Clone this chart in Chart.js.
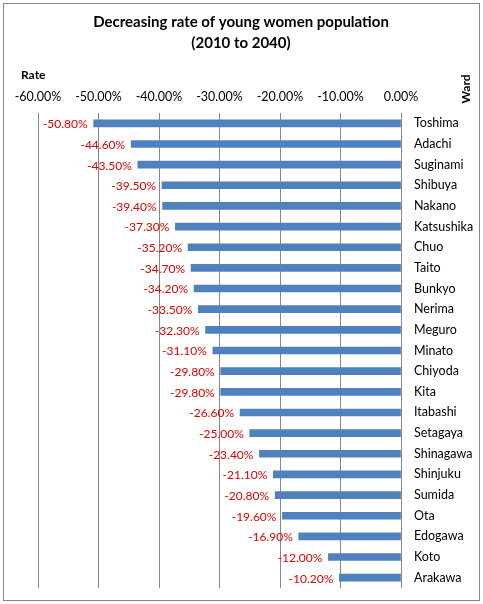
<!DOCTYPE html>
<html>
<head>
<meta charset="utf-8">
<script src="https://cdn.jsdelivr.net/npm/chart.js@4"></script>
<style>
html,body{margin:0;padding:0;background:#fff;}
#wrap{width:483px;height:604px;position:relative;}
</style>
</head>
<body>
<div id="wrap"><canvas id="c"></canvas></div>
<script>
const wards = ['Toshima','Adachi','Suginami','Shibuya','Nakano','Katsushika','Chuo','Taito','Bunkyo','Nerima','Meguro','Minato','Chiyoda','Kita','Itabashi','Setagaya','Shinagawa','Shinjuku','Sumida','Ota','Edogawa','Koto','Arakawa'];
const rates = [-50.8,-44.6,-43.5,-39.5,-39.4,-37.3,-35.2,-34.7,-34.2,-33.5,-32.3,-31.1,-29.8,-29.8,-26.6,-25.0,-23.4,-21.1,-20.8,-19.6,-16.9,-12.0,-10.2];
const titleLines = ['Decreasing rate of young women population','(2010 to 2040)'];
const xTitle = 'Rate';
const yTitle = 'Ward';

const FONT = 'Lato, "Open Sans", sans-serif';

const decor = {
  id:'decor',
  beforeDraw(chart){
    const ctx = chart.ctx;
    ctx.save();
    ctx.fillStyle = '#fff';
    ctx.fillRect(0,0,chart.width,chart.height);
    ctx.strokeStyle = '#868686';
    ctx.lineWidth = 1;
    ctx.strokeRect(3.5,3.5,chart.width-7,chart.height-7);
    ctx.restore();
  },
  afterDraw(chart){
    const ctx = chart.ctx;
    ctx.save();
    ctx.fillStyle = '#000';
    ctx.textAlign = 'center';
    ctx.textBaseline = 'middle';
    ctx.font = 'bold 15px ' + FONT;
    ctx.fillText(titleLines[0], 241, 22);
    ctx.fillText(titleLines[1], 241, 43);
    ctx.font = 'bold 12px ' + FONT;
    ctx.textAlign = 'left';
    ctx.fillText(xTitle, 21, 75);
    ctx.translate(466, 89);
    ctx.rotate(-Math.PI/2);
    ctx.textAlign = 'center';
    ctx.fillText(yTitle, 0, 0);
    ctx.restore();
    // data labels
    const meta = chart.getDatasetMeta(0);
    ctx.save();
    ctx.fillStyle = '#e00000';
    ctx.font = '12px ' + FONT;
    ctx.textAlign = 'right';
    ctx.textBaseline = 'middle';
    meta.data.forEach((bar,i)=>{
      const v = chart.data.datasets[0].data[i];
      ctx.fillText(v.toFixed(2)+'%', bar.x - 6, bar.y + 1);
    });
    ctx.restore();
  }
};

function noPad(s){ s.paddingTop = 0; s.paddingBottom = 0; s.paddingLeft = 0; s.paddingRight = 0; }

new Chart(document.getElementById('c'), {
  type:'bar',
  data:{
    labels: wards,
    datasets:[{
      data: rates,
      backgroundColor:'#4F81BD',
      borderWidth:0,
      barThickness:7
    }]
  },
  options:{
    indexAxis:'y',
    responsive:true,
    maintainAspectRatio:false,
    animation:false,
    layout:{padding:{top:83,left:38,right:0,bottom:16}},
    plugins:{legend:{display:false},title:{display:false},tooltip:{enabled:false}},
    scales:{
      x:{
        position:'top',
        min:-60,max:0,
        afterFit(s){ s.height = 30; noPad(s); },
        ticks:{stepSize:10,padding:9,color:'#000',font:{family:FONT,size:12.5},
          callback:(v)=>Number(v).toFixed(2)+'%'},
        grid:{color:'#868686',drawTicks:false,lineWidth:1},
        border:{display:false}
      },
      y:{
        position:'right',
        afterFit(s){ s.width = 82; noPad(s); },
        ticks:{padding:13,color:'#000',font:{family:FONT,size:12.5}},
        grid:{display:false,drawTicks:false},
        border:{display:false}
      }
    }
  },
  plugins:[decor]
});
</script>
</body>
</html>
